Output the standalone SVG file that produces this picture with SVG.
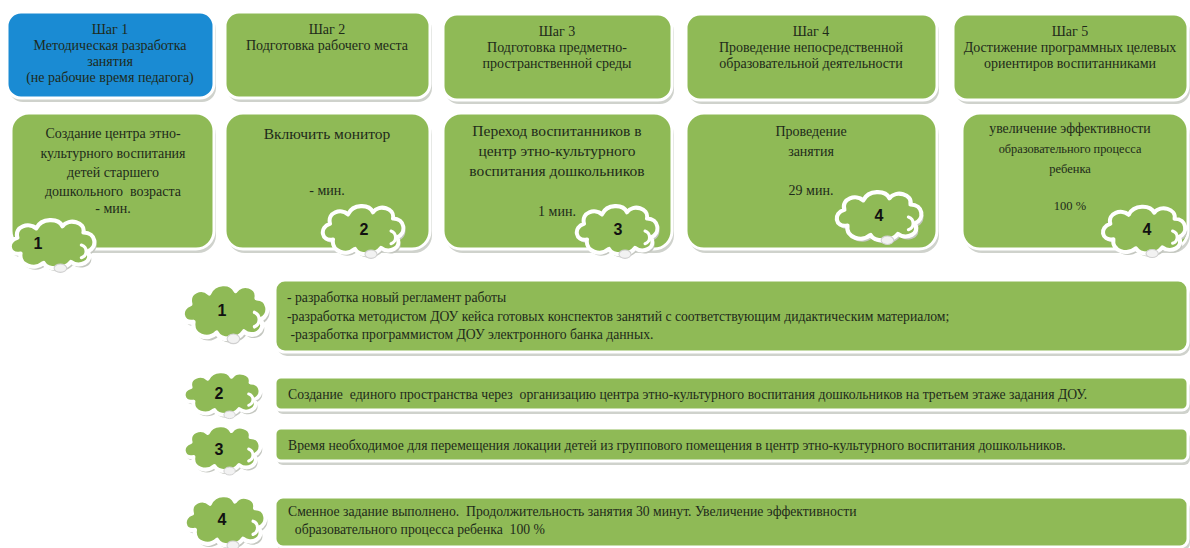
<svg xmlns="http://www.w3.org/2000/svg" xmlns:xlink="http://www.w3.org/1999/xlink" width="1190" height="548" viewBox="0 0 1190 548">
<style>
.sh{fill:#cfd2cc}
.gb{fill:#8fba56;stroke:#ffffff;stroke-width:3}
.bb{fill:#1a8bd3;stroke:#ffffff;stroke-width:3}
.t{font-family:"Liberation Serif","Times New Roman",serif;fill:#1e2a1a;text-anchor:middle;white-space:pre}
.h{font-size:14px}
.m{font-size:14px}
.l{font-family:"Liberation Serif","Times New Roman",serif;fill:#1e2a1a;font-size:13.7px;white-space:pre}
.n{font-family:"Liberation Sans",Arial,sans-serif;font-weight:bold;font-size:16px;fill:#111;text-anchor:middle}
.cs{fill:#c4c7c0}
.cf{fill:#8fba56;stroke:#ffffff;stroke-width:4;stroke-linejoin:round}
.tail{fill:#f2f2f2;stroke:#d0d0d0;stroke-width:1}
</style>
<defs>
<path id="cp" d="M -30,10 C -42,12 -44,-2 -33,-5 C -36,-16 -22,-20 -15,-14 C -10,-24 6,-24 10,-16 C 16,-24 32,-20 30,-10 C 42,-10 44,4 34,8 C 40,18 26,24 18,18 C 12,26 -4,26 -8,19 C -16,26 -32,22 -30,10 Z"/>
<g id="cloud">
<use xlink:href="#cp" href="#cp" class="cs" transform="translate(2,3)"/>
<use xlink:href="#cp" href="#cp" class="cf"/>
<path d="M 28,2 C 34,4 34,12 28,14" fill="none" stroke="#ffffff" stroke-width="3" stroke-linecap="round"/>
<ellipse cx="8" cy="24" rx="6" ry="4" class="tail"/>
</g>
</defs>
<rect width="1190" height="548" fill="#ffffff"/>

<g id="step1">
<rect x="9" y="16" width="207" height="86" rx="14" class="sh"/>
<rect x="7" y="12" width="207" height="86" rx="14" class="bb"/>
<text class="t h" x="110" y="34">Шаг 1</text>
<text class="t h" x="110" y="50">Методическая разработка</text>
<text class="t h" x="110" y="66">занятия</text>
<text class="t h" x="110" y="82">(не рабочие время педагога)</text>
</g>
<g id="step2">
<rect x="227" y="16" width="205" height="86" rx="14" class="sh"/>
<rect x="225" y="12" width="205" height="86" rx="14" class="gb"/>
<text class="t h" x="327" y="34">Шаг 2</text>
<text class="t h" x="327" y="50">Подготовка рабочего места</text>
</g>
<g id="step3">
<rect x="445" y="18" width="229" height="86" rx="14" class="sh"/>
<rect x="443" y="14" width="229" height="86" rx="14" class="gb"/>
<text class="t h" x="557" y="36">Шаг 3</text>
<text class="t h" x="557" y="52">Подготовка предметно-</text>
<text class="t h" x="557" y="68">пространственной среды</text>
</g>
<g id="step4">
<rect x="688" y="18" width="251" height="86" rx="14" class="sh"/>
<rect x="686" y="14" width="251" height="86" rx="14" class="gb"/>
<text class="t h" x="811" y="36">Шаг 4</text>
<text class="t h" x="811" y="52">Проведение непосредственной</text>
<text class="t h" x="811" y="68">образовательной деятельности</text>
</g>
<g id="step5">
<rect x="955" y="18" width="235" height="86" rx="14" class="sh"/>
<rect x="953" y="14" width="235" height="86" rx="14" class="gb"/>
<text class="t h" x="1070" y="36">Шаг 5</text>
<text class="t h" x="1070" y="52">Достижение программных целевых</text>
<text class="t h" x="1070" y="68">ориентиров воспитанниками</text>
</g>

<g id="task1">
<rect x="13" y="117" width="203" height="136" rx="18" class="sh"/>
<rect x="11" y="113" width="203" height="136" rx="18" class="gb"/>
<text class="t m" x="113" y="138">Создание центра этно-</text>
<text class="t m" x="113" y="158">культурного воспитания</text>
<text class="t m" x="113" y="177">детей старшего</text>
<text class="t m" x="113" y="196">дошкольного  возраста</text>
<text class="t h" x="113" y="213">- мин.</text>
<use xlink:href="#cloud" href="#cloud" transform="translate(52,243) scale(1.05,1.05)"/>
<text class="n" x="38" y="249">1</text>
</g>
<g id="task2">
<rect x="227" y="117" width="205" height="136" rx="18" class="sh"/>
<rect x="225" y="113" width="205" height="136" rx="18" class="gb"/>
<text class="t" style="font-size:15.5px" x="327" y="139">Включить монитор</text>
<text class="t m" x="327" y="195">- мин.</text>
<use xlink:href="#cloud" href="#cloud" transform="translate(363,229) scale(1,1.05)"/>
<text class="n" x="364" y="235">2</text>
</g>
<g id="task3">
<rect x="445" y="117" width="229" height="136" rx="18" class="sh"/>
<rect x="443" y="113" width="229" height="136" rx="18" class="gb"/>
<text class="t" style="font-size:15.5px" x="557" y="136">Переход воспитанников в</text>
<text class="t" style="font-size:15.5px" x="557" y="156">центр этно-культурного</text>
<text class="t" style="font-size:15.5px" x="557" y="176">воспитания дошкольников</text>
<text class="t m" x="557" y="216">1 мин.</text>
<use xlink:href="#cloud" href="#cloud" transform="translate(617,229) scale(1,1.05)"/>
<text class="n" x="618" y="235">3</text>
</g>
<g id="task4">
<rect x="688" y="117" width="251" height="136" rx="18" class="sh"/>
<rect x="686" y="113" width="251" height="136" rx="18" class="gb"/>
<text class="t m" x="811" y="136">Проведение</text>
<text class="t m" x="811" y="156">занятия</text>
<text class="t m" x="811" y="195">29 мин.</text>
<use xlink:href="#cloud" href="#cloud" transform="translate(879,215) scale(1.05,1.05)"/>
<text class="n" x="879" y="221">4</text>
</g>
<g id="task5">
<rect x="964" y="117" width="226" height="136" rx="18" class="sh"/>
<rect x="962" y="113" width="226" height="136" rx="18" class="gb"/>
<text class="t" style="font-size:13.8px" x="1070" y="133">увеличение эффективности</text>
<text class="t" style="font-size:12.3px" x="1070" y="153">образовательного процесса</text>
<text class="t" style="font-size:12.5px" x="1070" y="173">ребенка</text>
<text class="t" style="font-size:12.5px" x="1070" y="210">100 %</text>
<use xlink:href="#cloud" href="#cloud" transform="translate(1144,229) scale(1.02,1.02)"/>
<text class="n" x="1147" y="235">4</text>
</g>

<g id="note1">
<use xlink:href="#cloud" href="#cloud" transform="translate(225,310) scale(1.05,1.2)"/>
<text class="n" x="222" y="316">1</text>
<rect x="277" y="284" width="913" height="72" rx="10" class="sh"/>
<rect x="275" y="280" width="913" height="72" rx="10" class="gb"/>
<text class="l" x="287" y="302">- разработка новый регламент работы</text>
<text class="l" x="287" y="321">-разработка методистом ДОУ кейса готовых конспектов занятий с соответствующим дидактическим материалом;</text>
<text class="l" x="287" y="339"> -разработка программистом ДОУ электронного банка данных.</text>
</g>
<g id="note2">
<use xlink:href="#cloud" href="#cloud" transform="translate(222,392) scale(0.95,0.95)"/>
<text class="n" x="219" y="399">2</text>
<rect x="277" y="381" width="913" height="33" rx="6" class="sh"/>
<rect x="275" y="377" width="913" height="33" rx="6" class="gb"/>
<text class="l" x="288" y="399">Создание  единого пространства через  организацию центра этно-культурного воспитания дошкольников на третьем этаже задания ДОУ.</text>
</g>
<g id="note3">
<use xlink:href="#cloud" href="#cloud" transform="translate(222,447) scale(0.95,1)"/>
<text class="n" x="219" y="455">3</text>
<rect x="277" y="432" width="913" height="33" rx="6" class="sh"/>
<rect x="275" y="428" width="913" height="33" rx="6" class="gb"/>
<text class="l" x="288" y="450">Время необходимое для перемещения локации детей из группового помещения в центр этно-культурного воспитания дошкольников.</text>
</g>
<g id="note4">
<use xlink:href="#cloud" href="#cloud" transform="translate(225,519) scale(1,1.1)"/>
<text class="n" x="222" y="525">4</text>
<rect x="277" y="501" width="913" height="50" rx="8" class="sh"/>
<rect x="275" y="497" width="913" height="50" rx="8" class="gb"/>
<text class="l" x="288" y="516">Сменное задание выполнено.  Продолжительность занятия 30 минут. Увеличение эффективности</text>
<text class="l" x="288" y="534">  образовательного процесса ребенка  100 %</text>
</g>
<g id="connectors"/>
</svg>
